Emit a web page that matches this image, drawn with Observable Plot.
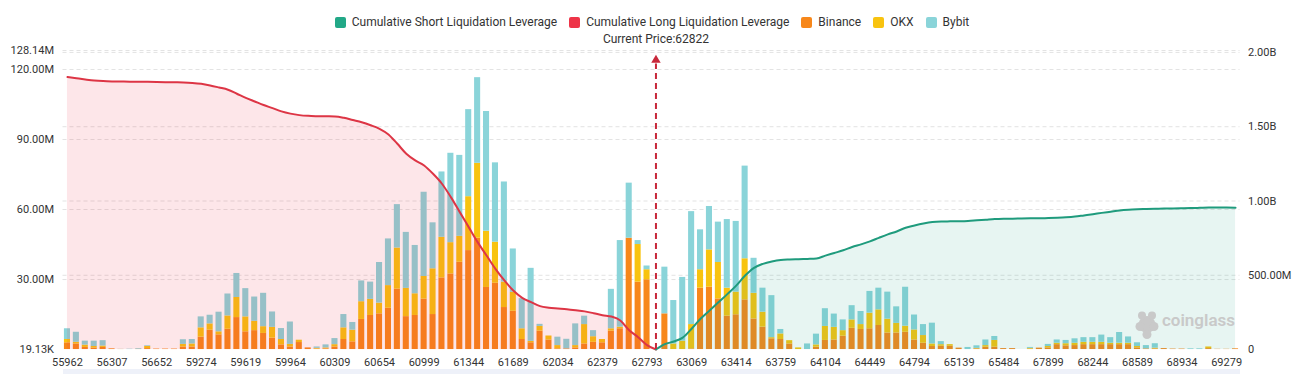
<!DOCTYPE html>
<html>
<head>
<meta charset="utf-8">
<script src="https://cdn.jsdelivr.net/npm/d3@7"></script>
<script src="https://cdn.jsdelivr.net/npm/@observablehq/plot@0.6"></script>
<style>
  html, body { margin: 0; padding: 0; background: #fff; }
  #wrap { position: relative; width: 1304px; height: 374px; overflow: hidden; font-family: Roboto, sans-serif; }
  #legend { height: 30px; box-sizing: border-box; padding-top: 14px; display: flex; justify-content: center; font-size: 12px; line-height: 14px; color: #333; }
  .item { display: flex; align-items: center; margin: 0 6px; white-space: nowrap; }
  .sw { width: 11px; height: 11px; border-radius: 2px; margin-right: 6px; }
  #slider { position: absolute; left: 63px; top: 369px; width: 1177px; height: 5px; background: #eef1f9; }
</style>
</head>
<body>
<div id="wrap">
  <div id="legend"></div>
  <div id="chart"></div>
  <div id="slider"></div>
</div>
<script>
// Price levels (one band per level)
const prices = [
  55962, 56031, 56100, 56169, 56238, 56307, 56376, 56445, 56514, 56583,
  56652, 56721, 56790, 59136, 59205, 59274, 59343, 59412, 59481, 59550,
  59619, 59688, 59757, 59826, 59895, 59964, 60033, 60102, 60171, 60240,
  60309, 60378, 60447, 60516, 60585, 60654, 60723, 60792, 60861, 60930,
  60999, 61068, 61137, 61206, 61275, 61344, 61413, 61482, 61551, 61620,
  61689, 61758, 61827, 61896, 61965, 62034, 62103, 62172, 62241, 62310,
  62379, 62448, 62517, 62586, 62655, 62793, 62822, 62862, 62931, 63000,
  63069, 63138, 63207, 63276, 63345, 63414, 63483, 63552, 63621, 63690,
  63759, 63828, 63897, 63966, 64035, 64104, 64173, 64242, 64311, 64380,
  64449, 64518, 64587, 64656, 64725, 64794, 64863, 64932, 65001, 65070,
  65139, 65208, 65277, 65346, 65415, 65484, 65553, 65622, 67761, 67830,
  67899, 67968, 68037, 68106, 68175, 68244, 68313, 68382, 68451, 68520,
  68589, 68658, 68727, 68796, 68865, 68934, 69003, 69072, 69141, 69210,
  69279, 69348
];

// Price labels shown on the x axis
const xTicks = [55962, 56307, 56652, 59274, 59619, 59964, 60309, 60654, 60999, 61344,
  61689, 62034, 62379, 62793, 63069, 63414, 63759, 64104, 64449, 64794, 65139, 65484,
  67899, 68244, 68589, 68934, 69279];

// Liquidation leverage per exchange, millions USD
const binance = [
  2.9, 2.4, 0.9, 0.6, 0.9, 0.3, 0.05, 0, 0.1, 0.4,
  0.2, 0.2, 0.2, 1.1, 1.1, 5.3, 8.3, 6.3, 8.7, 13.7,
  7.6, 8.1, 6.9, 4.9, 2.0, 1.1, 3.0, 0.7, 0.2, 0.3,
  1.1, 4.3, 3.3, 12.9, 14.6, 15.3, 17.7, 25.9, 14.1, 14.6,
  21.6, 15.0, 30.7, 32.4, 37.4, 42.4, 47.7, 26.6, 28.4, 18.0,
  16.4, 4.3, 2.9, 7.9, 4.1, 0.3, 0.3, 0.7, 2.4, 3.1,
  2.9, 7.9, 8.9, 47.7, 28.9, 29.9, 0, 15.3, 0, 0,
  0.3, 26.3, 26.7, 21.7, 14.3, 14.9, 21.3, 13.1, 9.6, 4.6,
  4.3, 2.4, 0, 0, 1.0, 3.9, 4.1, 5.7, 9.1, 8.6,
  8.9, 10.3, 7.1, 7.1, 7.4, 4.1, 2.7, 1.3, 1.4, 1.4,
  0.6, 0, 0.3, 1.0, 1.0, 0.4, 0.4, 0, 0.2, 0.6,
  0.7, 2.1, 1.6, 1.7, 2.1, 2.1, 2.1, 2.1, 2.1, 2.1,
  0.7, 0.3, 0.3, 0.4, 0.2, 0.2, 0, 0, 0.4, 0.1,
  0.1, 0.3
];
const okx = [
  1.4, 0.7, 1.0, 0.7, 0.6, 0, 0, 0, 0, 0.9,
  0, 0, 0, 1.1, 1.3, 4.0, 2.7, 1.3, 5.7, 8.6,
  6.4, 4.0, 2.9, 4.6, 2.3, 1.1, 1.0, 0, 0.3, 0.4,
  1.0, 5.0, 5.0, 7.6, 6.9, 4.6, 9.7, 17.6, 12.1, 9.3,
  9.7, 19.6, 17.4, 13.4, 11.1, 23.1, 32.1, 24.1, 17.6, 10.9,
  8.1, 4.6, 0.6, 2.0, 1.7, 1.4, 0, 1.0, 8.3, 2.4,
  1.4, 1.0, 0.7, 0, 16.1, 4.3, 0, 0, 2.4, 3.6,
  10.4, 7.9, 16.0, 15.6, 12.0, 9.7, 17.6, 11.0, 6.4, 0.5,
  2.4, 1.4, 0.7, 0, 1.0, 6.0, 5.4, 2.4, 3.6, 2.1,
  6.7, 6.7, 5.9, 4.1, 2.6, 4.3, 3.3, 1.1, 0.7, 0.7,
  0, 0, 0.2, 0.7, 2.9, 0, 0, 0, 0.3, 0,
  0.6, 0.6, 0.9, 1.0, 1.0, 1.0, 1.0, 0.6, 0.6, 0.6,
  0.6, 0, 0.3, 0, 0, 0, 0, 0, 0.7, 0,
  0, 0
];
const bybit = [
  4.6, 4.3, 1.7, 2.3, 2.3, 0, 0.05, 0.15, 0.3, 0.3,
  0, 0, 0, 2.0, 1.9, 4.7, 3.7, 8.4, 9.4, 10.3,
  12.1, 10.4, 14.3, 6.6, 4.7, 9.6, 0, 0, 0.6, 1.3,
  2.6, 5.7, 3.3, 8.9, 7.4, 17.4, 20.0, 18.6, 24.0, 20.7,
  36.1, 19.7, 28.0, 38.3, 34.7, 37.3, 36.7, 51.3, 34.0, 42.9,
  18.6, 12.9, 31.3, 0.9, 0, 3.6, 4.1, 9.3, 3.6, 2.6,
  0, 16.9, 37.1, 23.6, 1.7, 1.6, 0, 20.0, 18.6, 27.3,
  48.4, 17.1, 18.6, 17.3, 29.4, 30.3, 39.7, 15.0, 10.3, 18.0,
  1.9, 0, 0, 2.4, 4.6, 7.6, 5.7, 4.6, 6.1, 5.6,
  9.3, 9.3, 11.6, 7.1, 16.7, 6.4, 4.7, 8.9, 1.3, 0,
  0, 0.9, 1.1, 2.4, 1.7, 0, 0, 0, 0.4, 0,
  0.9, 1.4, 1.4, 1.9, 2.0, 2.0, 3.1, 2.4, 4.6, 2.7,
  1.6, 1.4, 1.9, 0, 0, 0, 0.3, 0.3, 0, 0,
  0, 0
];

// Cumulative long liquidation leverage (billions USD), lowest price up to the current price
const longCum = [
  1.834, 1.826, 1.818, 1.811, 1.807, 1.805, 1.804, 1.803, 1.803, 1.802,
  1.801, 1.800, 1.799, 1.798, 1.795, 1.789, 1.778, 1.764, 1.749, 1.722,
  1.694, 1.670, 1.646, 1.625, 1.603, 1.588, 1.578, 1.573, 1.571, 1.570,
  1.569, 1.560, 1.545, 1.530, 1.510, 1.486, 1.448, 1.385, 1.318, 1.273,
  1.239, 1.183, 1.116, 1.026, 0.925, 0.824, 0.723, 0.633, 0.543, 0.465,
  0.397, 0.348, 0.319, 0.292, 0.282, 0.277, 0.272, 0.265, 0.257, 0.245,
  0.231, 0.222, 0.196, 0.130, 0.083, 0.030, 0
];
// Cumulative short liquidation leverage (billions USD), current price up to the highest price
const shortCum = [
  0, 0.036, 0.054, 0.080, 0.140, 0.207, 0.262, 0.318, 0.373, 0.430,
  0.498, 0.550, 0.577, 0.593, 0.603, 0.606, 0.608, 0.610, 0.613, 0.632,
  0.650, 0.668, 0.690, 0.708, 0.728, 0.752, 0.775, 0.795, 0.820, 0.835,
  0.848, 0.858, 0.862, 0.863, 0.864, 0.866, 0.870, 0.874, 0.878, 0.880,
  0.881, 0.882, 0.883, 0.884, 0.885, 0.887, 0.890, 0.895, 0.903, 0.911,
  0.920, 0.928, 0.936, 0.941, 0.944, 0.946, 0.948, 0.949, 0.950, 0.951,
  0.952, 0.954, 0.956, 0.956, 0.956, 0.955
];

const currentPrice = 62822;

const exchanges = ["Binance", "OKX", "Bybit"];
const exchangeColors = ["#f7871a", "#f8c30f", "#8ad4d9"];
const shortColor = "#22a887";
const longColor = "#ee3448";

// Left axis (bars, millions) and right axis (cumulative, billions)
const leftMax = 128.14;
const leftMin = 0.01913;
const leftTicks = [leftMin, 30, 60, 90, 120, leftMax];
const leftLabels = ["19.13K", "30.00M", "60.00M", "90.00M", "120.00M", "128.14M"];
const rightMax = 2.013;
const rightTicks = [0, 0.5, 1, 1.5, 2];
const rightLabels = ["0", "500.00M", "1.00B", "1.50B", "2.00B"];

const toLeft = (b) => b / rightMax * leftMax;

const rows = prices.flatMap((p, i) => [
  {price: p, exchange: "Binance", value: binance[i]},
  {price: p, exchange: "OKX", value: okx[i]},
  {price: p, exchange: "Bybit", value: bybit[i]}
]);
const cp = prices.indexOf(currentPrice);
const longRows = longCum.map((v, i) => ({price: prices[i], v}));
const shortRows = shortCum.map((v, j) => ({price: prices[cp + j], v}));

// Legend
const legendItems = [
  ["Cumulative Short Liquidation Leverage", shortColor],
  ["Cumulative Long Liquidation Leverage", longColor],
  ...exchanges.map((e, i) => [e, exchangeColors[i]])
];
const legend = document.getElementById("legend");
for (const [name, color] of legendItems) {
  const it = document.createElement("div");
  it.className = "item";
  it.innerHTML = `<span class="sw" style="background:${color}"></span><span>${name}</span>`;
  legend.appendChild(it);
}

const leftLabelOf = new Map(leftTicks.map((t, i) => [t, leftLabels[i]]));
const rightTickPos = rightTicks.map(toLeft);
const rightLabelOf = new Map(rightTickPos.map((t, i) => [t, rightLabels[i]]));
const grid = {stroke: "#e3e3e3", strokeDasharray: "4,3", strokeWidth: 1};
const curve = "monotone-x";
const markColor = "#c9c9c9";

// Watermark logo: a small cluster of round blobs (offset from the frame's bottom-right corner)
const logoBlobs = [[-93, -25, 8.5], [-93, -15, 4.5], [-98, -34, 4], [-88, -34, 4], [-100, -23, 4.5], [-86, -23, 4.5]];

const chart = Plot.plot({
  width: 1304,
  height: 344,
  marginLeft: 62.5,
  marginRight: 64.5,
  marginTop: 20,
  marginBottom: 25,
  style: {fontFamily: "Roboto, sans-serif", fontSize: "11px", color: "#333", background: "transparent"},
  x: {type: "band", domain: prices, paddingInner: 0.32, paddingOuter: 0.16},
  y: {domain: [leftMin, leftMax]},
  color: {domain: exchanges, range: exchangeColors},
  marks: [
    Plot.ruleY(leftTicks.slice(1), grid),
    Plot.ruleY(rightTickPos.slice(1), grid),
    Plot.barY(rows, {x: "price", y: "value", fill: "exchange", order: exchanges}),
    Plot.areaY(longRows, {x: "price", y: (d) => toLeft(d.v), fill: longColor, fillOpacity: 0.12, curve}),
    Plot.areaY(shortRows, {x: "price", y: (d) => toLeft(d.v), fill: shortColor, fillOpacity: 0.11, curve}),
    Plot.line(longRows, {x: "price", y: (d) => toLeft(d.v), stroke: "#dd3545", strokeWidth: 2, curve}),
    Plot.line(shortRows, {x: "price", y: (d) => toLeft(d.v), stroke: "#1f9b7d", strokeWidth: 2, curve}),
    Plot.ruleX([currentPrice], {y1: 0, y2: leftMax * 0.955, stroke: "#c8283a", strokeWidth: 2, strokeDasharray: "6,4"}),
    Plot.dot([currentPrice], {x: (d) => d, y: leftMax * 0.968, symbol: "triangle", fill: "#c8283a", r: 3.5}),
    Plot.text([currentPrice], {x: (d) => d, y: leftMax, text: (d) => `Current Price:${d}`, dy: -11, fontSize: 12, fill: "#333"}),
    ...logoBlobs.map(([dx, dy, r]) => Plot.dot([0], {frameAnchor: "bottom-right", dx, dy, r, fill: markColor, stroke: null})),
    Plot.text(["coinglass"], {frameAnchor: "bottom-right", dx: -5, dy: -24, fontSize: 17, fontWeight: 600, fill: markColor, textAnchor: "end"}),
    Plot.axisX(xTicks, {tickSize: 0, tickPadding: 9, label: null, fontSize: 11, color: "#333", tickFormat: (d) => String(d)}),
    Plot.axisY(leftTicks, {anchor: "left", tickSize: 0, tickPadding: 9, label: null, tickFormat: (d) => leftLabelOf.get(d), color: "#333"}),
    Plot.axisY(rightTickPos, {anchor: "right", tickSize: 0, tickPadding: 8, label: null, tickFormat: (d) => rightLabelOf.get(d), color: "#333"})
  ]
});
document.getElementById("chart").appendChild(chart);
</script>
</body>
</html>
